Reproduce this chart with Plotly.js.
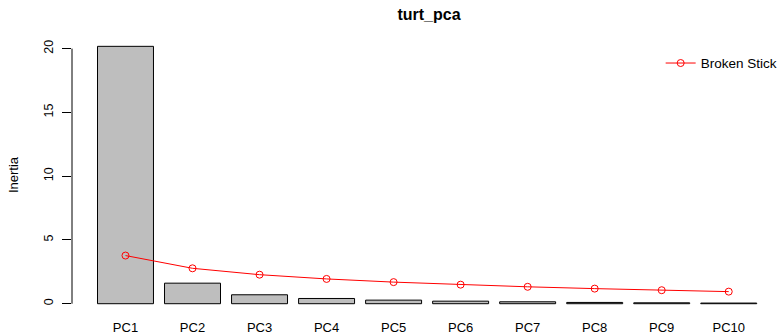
<!DOCTYPE html>
<html>
<head>
<meta charset="utf-8">
<script src="https://cdn.plot.ly/plotly-3.0.1.min.js"></script>
<style>
  html, body { margin: 0; padding: 0; background: #fff; }
  #chart { width: 783px; height: 334px; }
</style>
</head>
<body>
<div id="chart"></div>
<script>
// Principal components of turt_pca
var components = ["PC1", "PC2", "PC3", "PC4", "PC5", "PC6", "PC7", "PC8", "PC9", "PC10"];
// Inertia (eigenvalue) of each component
var inertia = [20.18, 1.61, 0.70, 0.41, 0.28, 0.20, 0.15, 0.10, 0.07, 0.05];
// Broken-stick expectation for each component
var brokenStick = [3.776, 2.776, 2.276, 1.943, 1.693, 1.493, 1.326, 1.183, 1.058, 0.947];
var yTicks = [0, 5, 10, 15, 20];

var FONT = "Liberation Sans, Arial, Helvetica, sans-serif";

var bars = {
  type: "bar",
  x: components,
  y: inertia,
  marker: { color: "#BEBEBE", line: { color: "#000000", width: 1 } },
  showlegend: false,
  hoverinfo: "x+y"
};

var stick = {
  type: "scatter",
  mode: "lines+markers",
  name: "Broken Stick",
  x: components,
  y: brokenStick,
  line: { color: "#FF0000", width: 1 },
  marker: { symbol: "circle-open", size: 7, color: "#FF0000", line: { width: 1, color: "#FF0000" } },
  showlegend: true
};

var layout = {
  width: 783,
  height: 334,
  margin: { l: 72, r: 0, t: 36, b: 19.5, pad: 0 },
  paper_bgcolor: "#ffffff",
  plot_bgcolor: "#ffffff",
  font: { family: FONT, size: 13, color: "#000000" },
  bargap: 0.165,
  title: {
    text: "<b>turt_pca</b>",
    font: { family: FONT, size: 16, color: "#000000" },
    xref: "container", x: 429 / 783, xanchor: "center",
    yref: "container", y: 1 - 14 / 334, yanchor: "middle"
  },
  xaxis: {
    type: "category",
    range: [-0.798, 9.75],
    showline: false,
    showgrid: false,
    zeroline: false,
    ticks: "",
    ticklabelstandoff: 4,
    tickfont: { family: FONT, size: 13, color: "#000000" },
    fixedrange: true
  },
  yaxis: {
    range: [-0.807, 20.99],
    tickvals: yTicks,
    ticktext: yTicks.map(String),
    showline: false,
    showgrid: false,
    zeroline: false,
    ticks: "outside",
    ticklen: 9,
    tickwidth: 1,
    tickcolor: "#000000",
    tickangle: -90,
    ticklabelstandoff: 4,
    tickfont: { family: FONT, size: 12.5, color: "#000000" },
    title: { text: "Inertia", font: { family: FONT, size: 13, color: "#000000" }, standoff: 20 },
    fixedrange: true
  },
  shapes: [{
    type: "line", xref: "paper", yref: "y",
    x0: 0, x1: 0, y0: yTicks[0], y1: yTicks[yTicks.length - 1],
    line: { color: "#000000", width: 1 }
  }],
  legend: {
    x: (664 - 72) / 711, xanchor: "left",
    y: (314.5 - 63.3) / 278.5, yanchor: "middle",
    bgcolor: "rgba(0,0,0,0)",
    borderwidth: 0,
    font: { family: FONT, size: 13.5, color: "#000000" }
  }
};

Plotly.newPlot("chart", [bars, stick], layout, { displayModeBar: false, staticPlot: true });
</script>
</body>
</html>
